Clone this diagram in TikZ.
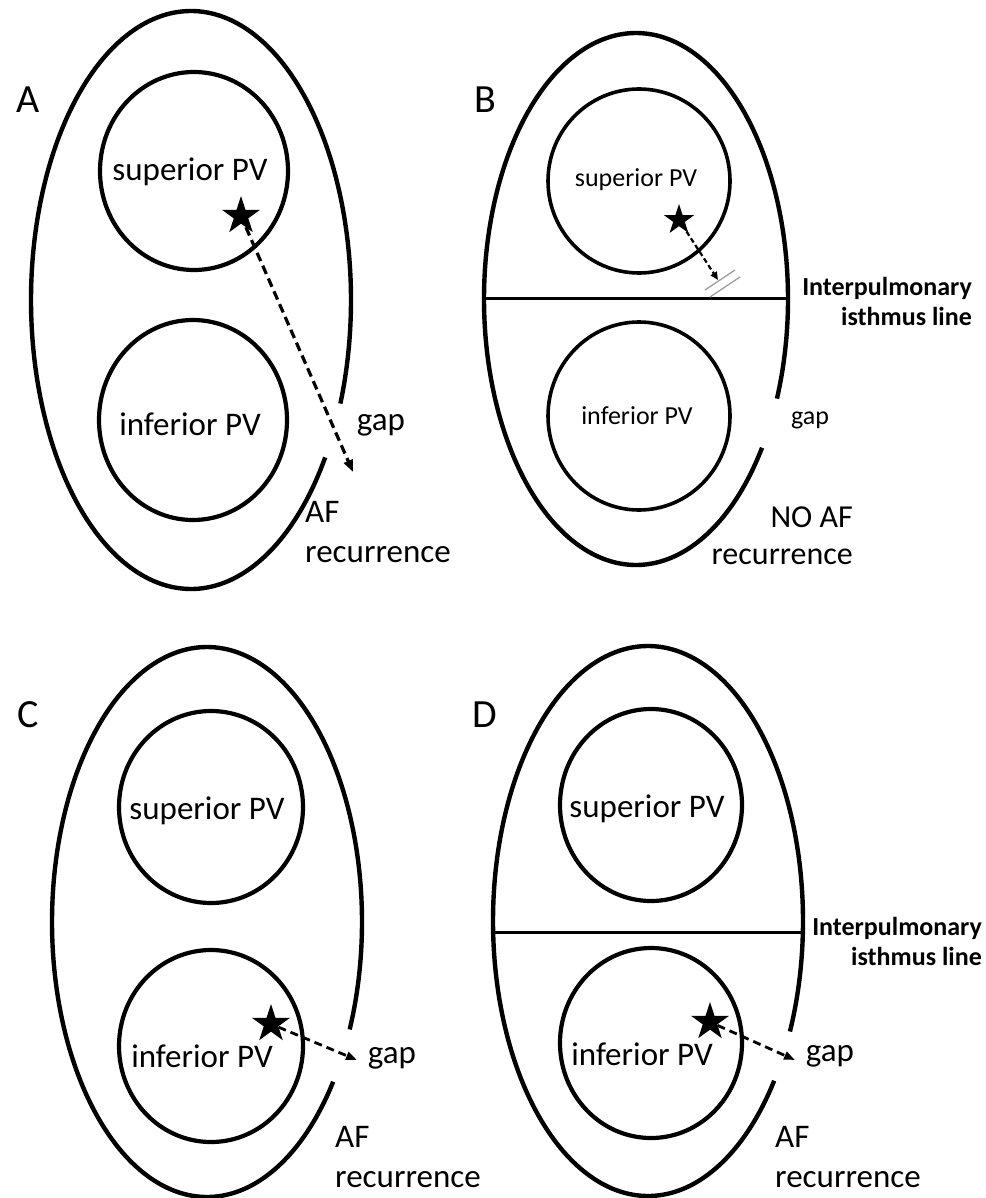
\documentclass[tikz,border=0pt]{standalone}
\usepackage{fontspec}
\setmainfont{Carlito}
\usetikzlibrary{shapes.geometric,arrows.meta}
\begin{document}
\begin{tikzpicture}[x=1pt,y=-1pt,
  outer/.style={line width=4.4pt},
  vein/.style={draw, ellipse, line width=4.2pt, inner sep=0pt},
  veinB/.style={draw, ellipse, line width=3.6pt, inner sep=0pt},
  isth/.style={line width=3pt},
  big/.style={font=\fontsize{33}{40}\selectfont, inner sep=0pt},
  small/.style={font=\fontsize{26}{30}\selectfont, inner sep=0pt},
  letter/.style={font=\fontsize{40}{44}\selectfont, inner sep=0pt},
  isthlbl/.style={font=\bfseries\fontsize{26}{30}\selectfont, inner sep=0pt, align=right, anchor=east},
  focus/.style={star, star points=5, star point ratio=2.618, fill=black, draw=none, inner sep=0pt, outer sep=0pt},
  darrA/.style={line width=3.2pt, dash pattern=on 9pt off 5pt, -{Triangle[length=12pt,width=9pt]}},
  darrB/.style={line width=2.2pt, dash pattern=on 5pt off 3pt, -{Triangle[length=8pt,width=7pt]}},
  darrC/.style={line width=2.8pt, dash pattern=on 8pt off 5pt, -{Triangle[length=11pt,width=8pt]}},
  slash/.style={draw=gray!75, line width=1.3pt}
]
\useasboundingbox (0,0) rectangle (985,1198);

% ---------------- Panel A ----------------
\node[letter] (labA) at (28,100) {A};
\draw[outer] plot[domain=33:381, samples=200, smooth] ({191+160*cos(\x)},{300+289*sin(\x)});
\node[vein, minimum width=188pt, minimum height=198pt] (supA) at (194,171) {};
\node[vein, minimum width=188pt, minimum height=200pt] (infA) at (193,420) {};
\node[big] (tsupA) at (190,172) {superior PV};
\node[big] (tinfA) at (190,424) {inferior PV};
\node[focus, minimum size=40pt] (sA) at (241,216) {};
\coordinate (tA) at (353,472);
\draw[darrA] (sA) -- (tA);
\node[big] (gapA) at (381,425) {gap};
\node[big, anchor=west, align=left] (afA) at (305,532) {AF\\recurrence};

% ---------------- Panel B ----------------
\node[letter] (labB) at (485,100) {B};
\draw[outer] plot[domain=34:382, samples=200, smooth] ({636+152*cos(\x)},{299+266*sin(\x)});
\node[veinB, minimum width=182pt, minimum height=184pt] (supB) at (639,181) {};
\node[veinB, minimum width=182pt, minimum height=188pt] (infB) at (639,416) {};
\coordinate (lBl) at (485,298);
\coordinate (lBr) at (787,298);
\draw[isth] (lBl) -- (lBr);
\node[small] (tsupB) at (636,180) {superior PV};
\node[small] (tinfB) at (637,416) {inferior PV};
\node[focus, minimum size=32pt] (sB) at (679,220) {};
\coordinate (tB) at (718,280);
\draw[darrB] (sB) -- (tB);
\draw[slash] (705,290) -- (735,270);
\draw[slash] (710,297) -- (740,277);
\node[isthlbl] (isB) at (972,301) {Interpulmonary\\isthmus line};
\node[small] (gapB) at (810,420) {gap};
\node[font=\fontsize{32}{37}\selectfont, inner sep=0pt, anchor=east, align=right] (afB) at (853,536) {NO AF\\recurrence};

% ---------------- Panel C ----------------
\node[letter] (labC) at (28,715) {C};
\draw[outer] plot[domain=35.5:383, samples=200, smooth] ({207+155*cos(\x)},{922+275*sin(\x)});
\node[vein, minimum width=184pt, minimum height=192pt] (supC) at (211,807) {};
\node[vein, minimum width=184pt, minimum height=192pt] (infC) at (211,1046) {};
\node[big] (tsupC) at (207,811) {superior PV};
\node[big] (tinfC) at (202,1056) {inferior PV};
\node[focus, minimum size=40pt] (sC) at (271,1024) {};
\coordinate (tC) at (357,1060);
\draw[darrC] (sC) -- (tC);
\node[big] (gapC) at (392,1058) {gap};
\node[big, anchor=west, align=left] (afC) at (335,1157) {AF\\recurrence};

% ---------------- Panel D ----------------
\node[letter] (labD) at (485,715) {D};
\draw[outer] plot[domain=35.5:383.7, samples=200, smooth] ({648+155*cos(\x)},{921+275*sin(\x)});
\node[vein, minimum width=182pt, minimum height=192pt] (supD) at (651,805) {};
\node[vein, minimum width=182pt, minimum height=190pt] (infD) at (651,1043) {};
\coordinate (lDl) at (493,932);
\coordinate (lDr) at (803,932);
\draw[isth] (lDl) -- (lDr);
\node[big] (tsupD) at (647,809) {superior PV};
\node[big] (tinfD) at (642,1054) {inferior PV};
\node[focus, minimum size=40pt] (sD) at (710,1022) {};
\coordinate (tD) at (795,1060);
\draw[darrC] (sD) -- (tD);
\node[isthlbl] (isD) at (982,941) {Interpulmonary\\isthmus line};
\node[big] (gapD) at (830,1056) {gap};
\node[big, anchor=west, align=left] (afD) at (775,1157) {AF\\recurrence};
\end{tikzpicture}
\end{document}
